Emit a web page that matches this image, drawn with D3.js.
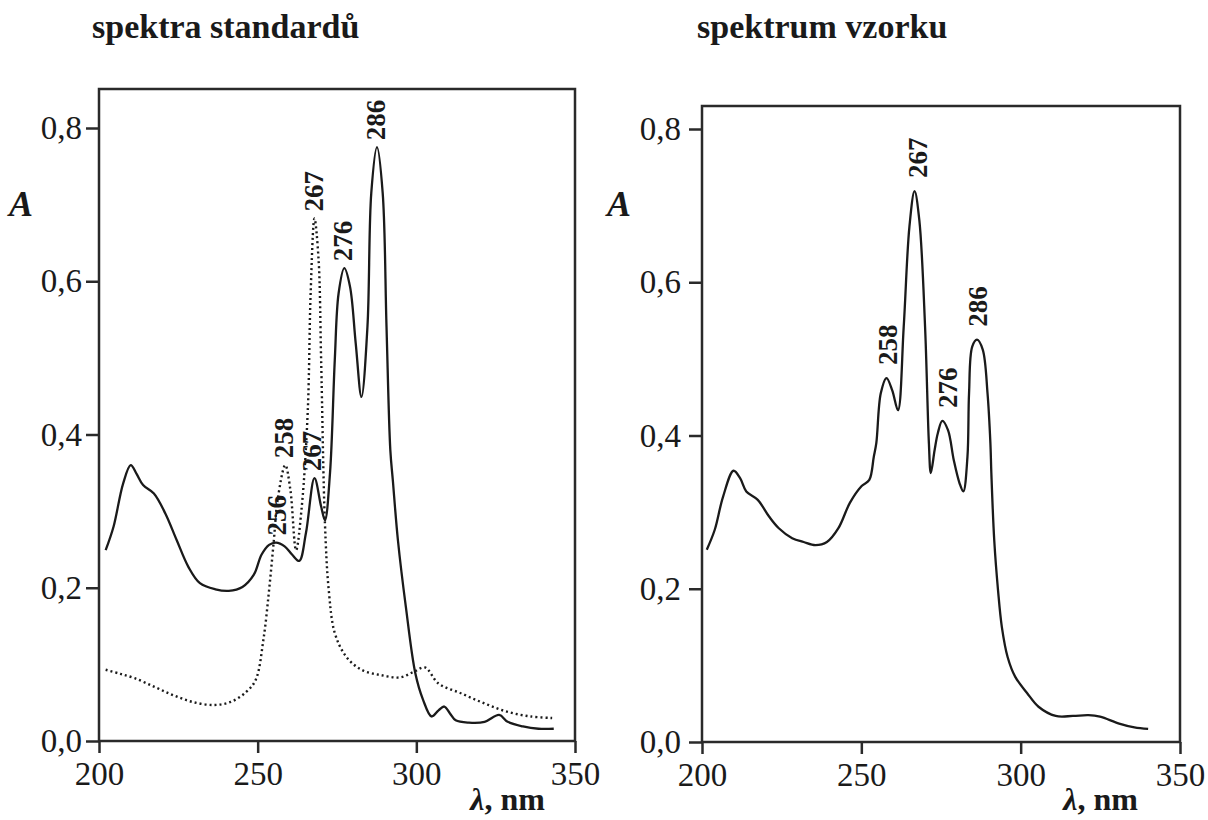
<!DOCTYPE html>
<html>
<head>
<meta charset="utf-8">
<script src="https://cdn.jsdelivr.net/npm/d3@7"></script>
<style>
  body { margin: 0; background: #fff; }
  svg { display: block; font-family: "Liberation Serif", "Times New Roman", serif; }
</style>
</head>
<body>
<svg id="chart" width="1208" height="820"></svg>
<script>
// Axis ticks
const xTicks = [200, 250, 300, 350];
const yTicks = [0, 0.2, 0.4, 0.6, 0.8];

// Standards, solid curve (wavelength nm, absorbance)
const stdSolidWl = [202.1, 204.6, 207.6, 210.0, 211.8, 213.9, 217.3, 220.9, 224.5, 228.2, 231.8, 236.7, 240.9, 245.2, 248.8, 251.2, 253.6, 255.8, 258.5, 260.9, 263.1, 265.2, 267.9, 270.0, 271.2, 272.8, 274.3, 275.5, 277.3, 279.1, 280.9, 282.7, 284.6, 285.8, 287.6, 289.4, 290.6, 291.8, 292.6, 294.2, 296.7, 299.7, 302.1, 304.8, 307.0, 308.8, 310.6, 312.4, 316.6, 321.5, 326.1, 328.8, 333.6, 338.5, 343.3];
const stdSolidA = [0.249, 0.280, 0.336, 0.360, 0.349, 0.334, 0.323, 0.297, 0.262, 0.227, 0.206, 0.198, 0.196, 0.201, 0.217, 0.243, 0.256, 0.259, 0.254, 0.243, 0.235, 0.271, 0.343, 0.306, 0.288, 0.350, 0.497, 0.584, 0.617, 0.593, 0.519, 0.449, 0.541, 0.715, 0.775, 0.715, 0.541, 0.380, 0.340, 0.262, 0.175, 0.088, 0.054, 0.032, 0.040, 0.045, 0.036, 0.027, 0.024, 0.025, 0.034, 0.025, 0.019, 0.016, 0.016];

// Standards, dotted curve
const stdDotWl = [202.1, 206.4, 211.2, 217.3, 223.3, 229.4, 236.1, 241.5, 246.4, 249.4, 251.8, 253.6, 255.1, 256.3, 258.7, 260.3, 262.1, 263.9, 265.8, 266.7, 267.9, 269.2, 270.0, 271.2, 272.4, 274.3, 277.9, 282.7, 288.8, 294.9, 299.1, 302.7, 307.0, 314.2, 321.5, 328.8, 336.1, 342.8];
const stdDotA = [0.093, 0.088, 0.082, 0.071, 0.060, 0.051, 0.047, 0.051, 0.064, 0.080, 0.132, 0.197, 0.262, 0.315, 0.360, 0.328, 0.249, 0.306, 0.432, 0.585, 0.682, 0.628, 0.497, 0.284, 0.197, 0.141, 0.110, 0.093, 0.086, 0.083, 0.090, 0.096, 0.075, 0.062, 0.049, 0.038, 0.032, 0.030];

// Sample spectrum
const sampleWl = [201.5, 204.0, 206.6, 209.9, 212.0, 213.9, 217.5, 221.1, 224.1, 228.3, 231.9, 235.6, 239.2, 242.8, 246.4, 250.1, 252.5, 253.9, 254.7, 256.1, 257.9, 259.7, 261.5, 263.3, 265.1, 266.7, 268.2, 270.0, 271.2, 271.8, 273.0, 274.0, 275.4, 277.2, 279.0, 280.8, 282.0, 283.3, 283.8, 284.8, 286.3, 288.1, 289.6, 290.5, 290.8, 291.7, 292.9, 294.1, 295.9, 298.3, 302.0, 305.6, 311.0, 316.4, 321.3, 324.9, 330.9, 335.7, 340.0];
const sampleA = [0.251, 0.277, 0.320, 0.354, 0.344, 0.327, 0.316, 0.294, 0.279, 0.266, 0.261, 0.257, 0.261, 0.279, 0.312, 0.334, 0.342, 0.372, 0.390, 0.455, 0.475, 0.459, 0.433, 0.542, 0.673, 0.719, 0.681, 0.542, 0.390, 0.351, 0.381, 0.403, 0.419, 0.407, 0.368, 0.338, 0.327, 0.372, 0.455, 0.516, 0.525, 0.512, 0.455, 0.390, 0.351, 0.264, 0.198, 0.150, 0.111, 0.085, 0.064, 0.046, 0.034, 0.034, 0.035, 0.033, 0.024, 0.019, 0.017];

// Peak labels: text, peak wavelength, peak absorbance
const stdPeakText = ["256", "267", "276", "286", "258", "267"];
const stdPeakWl = [255.8, 267.1, 276.8, 287.2, 258.3, 267.7];
const stdPeakA = [0.259, 0.343, 0.617, 0.775, 0.360, 0.682];
const samplePeakText = ["258", "267", "276", "286"];
const samplePeakWl = [258.2, 267.6, 277.0, 286.6];
const samplePeakA = [0.475, 0.719, 0.419, 0.525];

const zip = (a, b) => a.map((v, i) => [v, b[i]]);

const svg = d3.select("#chart");

function drawPanel(p) {
  const x = d3.scaleLinear().domain([200, 350]).range([p.left, p.right]);
  const y = d3.scaleLinear().domain([0, 0.8]).range([p.bottom, p.y08]);
  const g = svg.append("g");

  // title
  g.append("text")
    .attr("x", p.titleX).attr("y", 38)
    .attr("font-size", 34).attr("font-weight", "bold")
    .attr("fill", "#1a1a1a")
    .text(p.title);

  // frame
  g.append("rect")
    .attr("x", p.left).attr("y", p.top)
    .attr("width", p.right - p.left).attr("height", p.bottom - p.top)
    .attr("fill", "none").attr("stroke", "#2a2a2a").attr("stroke-width", 2.5);

  // y axis
  const ya = g.append("g")
    .attr("transform", `translate(${p.left},0)`)
    .call(d3.axisLeft(y).tickValues(yTicks).tickSize(13).tickPadding(p.yPad)
      .tickFormat(d => d3.format(".1f")(d).replace(".", ",")));
  ya.select(".domain").remove();

  // x axis
  const xa = g.append("g")
    .attr("transform", `translate(0,${p.bottom})`)
    .call(d3.axisBottom(x).tickValues(xTicks).tickSize(12).tickPadding(9));
  xa.select(".domain").remove();

  [ya, xa].forEach(a => {
    a.attr("font-family", null).attr("font-size", 33);
    a.selectAll("line").attr("stroke", "#2a2a2a").attr("stroke-width", 2.5);
    a.selectAll("text").attr("fill", "#1a1a1a");
  });

  // axis titles
  g.append("text")
    .attr("x", p.aX).attr("y", 216)
    .attr("font-size", 36).attr("font-weight", "bold").attr("font-style", "italic")
    .attr("fill", "#1a1a1a")
    .text("A");

  const xl = g.append("text")
    .attr("x", p.lambdaX).attr("y", 810)
    .attr("text-anchor", "end")
    .attr("font-size", 32).attr("font-weight", "bold")
    .attr("fill", "#1a1a1a");
  xl.append("tspan").attr("font-style", "italic").text("λ");
  xl.append("tspan").text(", nm");

  const line = d3.line()
    .x(d => x(d[0])).y(d => y(d[1]))
    .curve(d3.curveCatmullRom.alpha(0.5));

  p.series.forEach(s => {
    g.append("path")
      .attr("d", line(s.data))
      .attr("fill", "none")
      .attr("stroke", "#1a1a1a")
      .attr("stroke-width", s.dotted ? 2.4 : 2.3)
      .attr("stroke-dasharray", s.dotted ? "2,3" : null)
      .attr("stroke-linejoin", "round");
  });

  // peak labels
  g.selectAll(".peak")
    .data(p.peaks)
    .enter()
    .append("text")
    .attr("class", "peak")
    .attr("transform", d => `translate(${x(d.wl)},${y(d.a) - p.gap}) rotate(-90)`)
    .attr("dy", "0.35em")
    .attr("font-size", 27).attr("font-weight", "bold")
    .attr("fill", "#1a1a1a")
    .text(d => d.t);
}

drawPanel({
  title: "spektra standardů", titleX: 92,
  left: 99, right: 575, top: 89, bottom: 741, y08: 128,
  yPad: 4, aX: 9, lambdaX: 545, gap: 7,
  series: [
    { data: zip(stdSolidWl, stdSolidA), dotted: false },
    { data: zip(stdDotWl, stdDotA), dotted: true }
  ],
  peaks: stdPeakText.map((t, i) => ({ t, wl: stdPeakWl[i], a: stdPeakA[i] }))
});

drawPanel({
  title: "spektrum vzorku", titleX: 697,
  left: 702, right: 1180, top: 106, bottom: 742, y08: 129,
  yPad: 8, aX: 607, lambdaX: 1138, gap: 13,
  series: [
    { data: zip(sampleWl, sampleA), dotted: false }
  ],
  peaks: samplePeakText.map((t, i) => ({ t, wl: samplePeakWl[i], a: samplePeakA[i] }))
});
</script>
</body>
</html>
